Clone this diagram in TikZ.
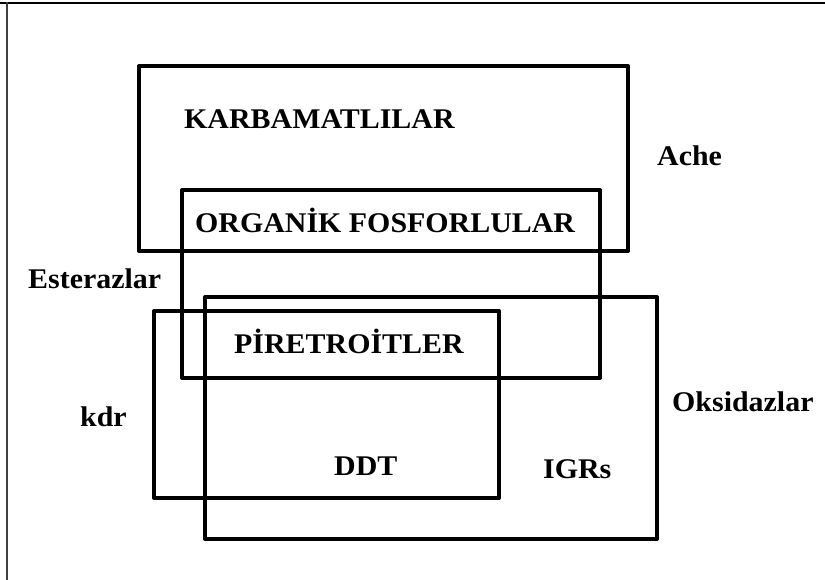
\documentclass[tikz,border=0pt]{standalone}
\usepackage{fontspec}
\setmainfont{Liberation Serif}[FakeStretch=1.05]
\begin{document}
\begin{tikzpicture}[x=1pt,y=-1pt,
  setbox/.style={draw=black,line width=4pt,line join=round},
  lbl/.style={font=\bfseries\fontsize{28.5}{31}\selectfont,inner sep=0pt,anchor=base west}]
\useasboundingbox (0,0) rectangle (825,580);
% frame
\draw[line width=2.2pt] (0,3) -- (825,3);
\draw[line width=1.4pt,black!75] (7,2) -- (7,580);
% sets
\draw[setbox] (139,66) rectangle (628,251);
\draw[setbox] (182,190) rectangle (600,378);
\draw[setbox] (205,297) rectangle (657,539);
\draw[setbox] (154,311) rectangle (499,498);
% labels
\node[lbl] (karb) at (184,129) {KARBAMATLILAR};
\node[lbl] (ache) at (657,166) {Ache};
\node[lbl] (orgf) at (195,233) {ORGANİK FOSFORLULAR};
\node[lbl] (este) at (28,288) {Esterazlar};
\node[lbl] (pire) at (234,353) {PİRETROİTLER};
\node[lbl] (oksi) at (672,411) {Oksidazlar};
\node[lbl] (kdr) at (80,426) {kdr};
\node[lbl] (ddt) at (334,475) {DDT};
\node[lbl] (igrs) at (543,478) {IGRs};
\end{tikzpicture}
\end{document}
